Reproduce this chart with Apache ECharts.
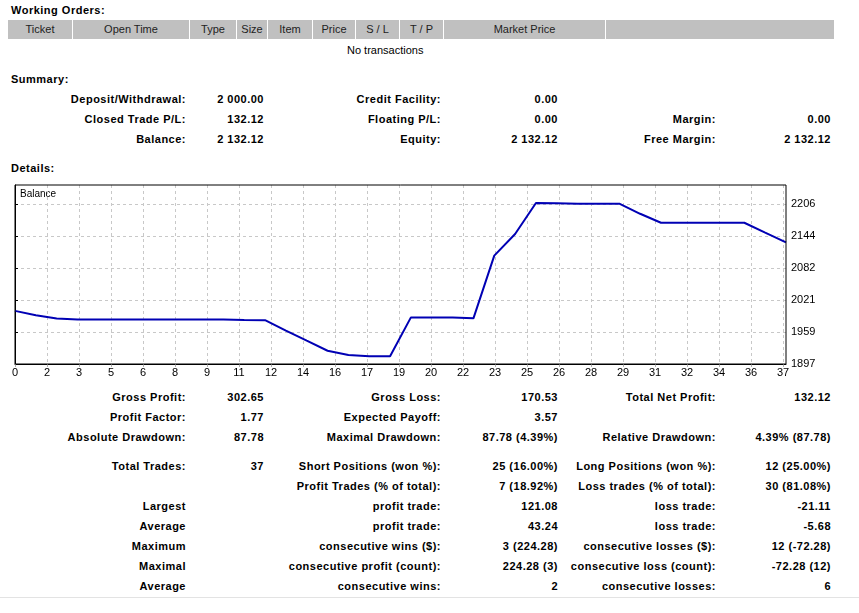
<!DOCTYPE html>
<html>
<head>
<meta charset="utf-8">
<script src="https://cdn.jsdelivr.net/npm/echarts@6/dist/echarts.min.js"></script>
<style>
  body { margin: 0; background: #fff; width: 859px; height: 613px; position: relative; overflow: hidden;
         font-family: "Liberation Sans", Arial, sans-serif; font-size: 11px; color: #000; }
  .t { position: absolute; white-space: nowrap; line-height: 14px; font-weight: bold; letter-spacing: 0.5px; }
  .hd { position: absolute; top: 20px; height: 19px; line-height: 19px; background: #c0c0c0;
        text-align: center; font-weight: normal; color: #222; }
  #chart { position: absolute; left: 0; top: 175px; width: 859px; height: 210px; }
  .rule { position: absolute; left: 0; top: 597px; width: 859px; height: 1px; background: #e3e3e3; }
</style>
</head>
<body>
<div class="t" style="left:11px;top:3px">Working Orders:</div>
<div class="t" style="left:11px;top:72px">Summary:</div>
<div class="t" style="left:11px;top:161px">Details:</div>
<div class="t" style="left:347px;top:43px;font-weight:normal;letter-spacing:0">No transactions</div>
<div id="chart"></div>
<div class="rule"></div>
<script>
// balance after each closed trade (trade 0 = initial deposit)
const tradeIndex = [0, 1, 2, 3, 4, 5, 6, 7, 8, 9, 10, 11, 12, 13, 14, 15, 16, 17, 18, 19,
  20, 21, 22, 23, 24, 25, 26, 27, 28, 29, 30, 31, 32, 33, 34, 35, 36, 37];
const balance = [2000.00, 1991.50, 1985.40, 1983.50, 1983.50, 1983.50, 1983.50, 1983.50, 1983.50, 1983.50,
  1983.50, 1982.30, 1982.00, 1962.00, 1942.40, 1923.00, 1914.60, 1912.22, 1912.22, 1987.40,
  1987.40, 1987.20, 1985.60, 2106.70, 2148.40, 2208.30, 2208.00, 2207.00, 2207.00, 2207.00,
  2187.50, 2170.20, 2170.20, 2170.20, 2170.20, 2170.20, 2151.00, 2132.12];
const xTickLabels = ["0", "2", "3", "5", "6", "8", "9", "11", "12", "14", "16", "17", "19", "20",
  "22", "23", "25", "26", "28", "29", "31", "32", "34", "36", "37"];
const yTickLabels = ["1897", "1959", "2021", "2082", "2144", "2206"];

const headerCols = [
  ["Ticket", 8, 72], ["Open Time", 73, 189], ["Type", 190, 236], ["Size", 237, 267],
  ["Item", 268, 312], ["Price", 313, 355], ["S / L", 356, 399], ["T / P", 400, 443],
  ["Market Price", 444, 605], ["", 606, 834],
];

// [label, value] per column, right edges: 186/264, 441/558, 716/831
const summaryRows = [
  [99, ["Deposit/Withdrawal:", "2 000.00"], ["Credit Facility:", "0.00"], null],
  [119, ["Closed Trade P/L:", "132.12"], ["Floating P/L:", "0.00"], ["Margin:", "0.00"]],
  [139, ["Balance:", "2 132.12"], ["Equity:", "2 132.12"], ["Free Margin:", "2 132.12"]],
];
const detailRows = [
  [397, ["Gross Profit:", "302.65"], ["Gross Loss:", "170.53"], ["Total Net Profit:", "132.12"]],
  [417, ["Profit Factor:", "1.77"], ["Expected Payoff:", "3.57"], null],
  [437, ["Absolute Drawdown:", "87.78"], ["Maximal Drawdown:", "87.78 (4.39%)"], ["Relative Drawdown:", "4.39% (87.78)"]],
  [466, ["Total Trades:", "37"], ["Short Positions (won %):", "25 (16.00%)"], ["Long Positions (won %):", "12 (25.00%)"]],
  [486, null, ["Profit Trades (% of total):", "7 (18.92%)"], ["Loss trades (% of total):", "30 (81.08%)"]],
  [506, ["Largest", ""], ["profit trade:", "121.08"], ["loss trade:", "-21.11"]],
  [526, ["Average", ""], ["profit trade:", "43.24"], ["loss trade:", "-5.68"]],
  [546, ["Maximum", ""], ["consecutive wins ($):", "3 (224.28)"], ["consecutive losses ($):", "12 (-72.28)"]],
  [566, ["Maximal", ""], ["consecutive profit (count):", "224.28 (3)"], ["consecutive loss (count):", "-72.28 (12)"]],
  [586, ["Average", ""], ["consecutive wins:", "2"], ["consecutive losses:", "6"]],
];
const colRights = [[186, 264], [441, 558], [716, 831]];

headerCols.forEach(([txt, x0, x1]) => {
  const d = document.createElement("div");
  d.className = "hd";
  d.style.left = x0 + "px";
  d.style.width = (x1 - x0) + "px";
  d.textContent = txt;
  document.body.appendChild(d);
});

const putRight = (txt, right, yc) => {
  if (!txt) return;
  const d = document.createElement("div");
  d.className = "t";
  d.style.right = (859 - right) + "px";
  d.style.top = (yc - 7) + "px";
  d.textContent = txt;
  document.body.appendChild(d);
};

[...summaryRows, ...detailRows].forEach(([y, ...cols]) => {
  cols.forEach((c, i) => {
    if (!c) return;
    putRight(c[0], colRights[i][0], y);
    putRight(c[1], colRights[i][1], y);
  });
});

// plot area is 771 x 179 px, grid lines every 32 px
const xSteps = 771 / 32;
const ySteps = 179 / 32;
const yBase = 1897.4;
const yStep = 61.8;

const chart = echarts.init(document.getElementById("chart"));
chart.setOption({
  animation: false,
  textStyle: { fontFamily: "Liberation Sans, Arial, sans-serif" },
  grid: { left: 15, top: 10, width: 771, height: 179, show: true, borderColor: "#000", borderWidth: 1, z: 5 },
  graphic: [{
    type: "text", left: 20, top: 14,
    style: { text: "Balance", fontSize: 10, fill: "#000", fontFamily: "Liberation Sans, Arial, sans-serif" },
  }],
  xAxis: [
    { type: "value", min: 0, max: 37, show: false },
    {
      type: "value", min: 0, max: xSteps, interval: 1, position: "bottom",
      axisLine: { show: true, lineStyle: { color: "#000" } },
      axisTick: { show: true, length: 3, lineStyle: { color: "#b0b0b0" } },
      axisLabel: {
        color: "#000", fontSize: 11, margin: 3, showMaxLabel: false,
        formatter: v => (Number.isInteger(v) && xTickLabels[v] !== undefined ? xTickLabels[v] : ""),
      },
      splitLine: {
        show: true, showMinLine: false, showMaxLine: false,
        lineStyle: { color: "#c8c8c8", type: [3, 3] },
      },
    },
  ],
  yAxis: [
    { type: "value", min: yBase, max: yBase + ySteps * yStep, show: false },
    {
      type: "value", min: 0, max: ySteps, interval: 1, position: "right",
      axisLine: { show: true, lineStyle: { color: "#000" } },
      axisTick: { show: true, length: 3, lineStyle: { color: "#000" } },
      axisLabel: {
        color: "#000", fontSize: 11, margin: 5, showMaxLabel: false,
        formatter: v => (Number.isInteger(v) && yTickLabels[v] !== undefined ? yTickLabels[v] : ""),
      },
      splitLine: {
        show: true, showMinLine: false, showMaxLine: false,
        lineStyle: { color: "#c8c8c8", type: [3, 3] },
      },
    },
  ],
  series: [{
    type: "line",
    xAxisIndex: 0,
    yAxisIndex: 0,
    data: tradeIndex.map((t, i) => [t, balance[i]]),
    symbol: "none",
    lineStyle: { color: "#0000b4", width: 2 },
  }],
});
</script>
</body>
</html>
